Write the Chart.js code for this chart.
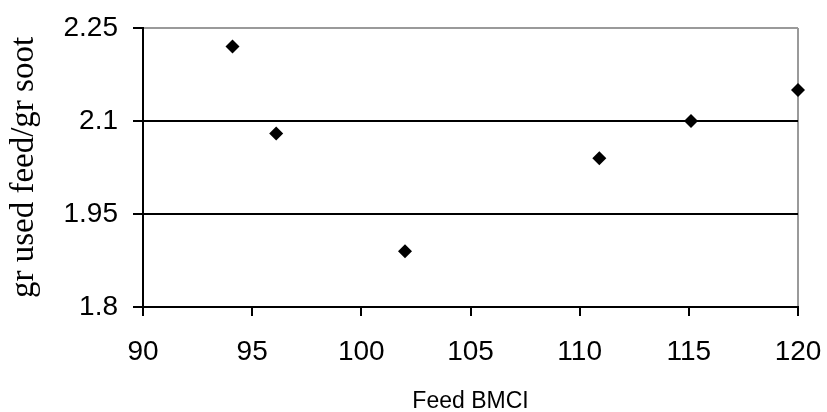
<!DOCTYPE html>
<html>
<head>
<meta charset="utf-8">
<script src="https://cdn.jsdelivr.net/npm/chart.js@4"></script>
<style>
  body { margin: 0; background: #fff; }
  #wrap { width: 827px; height: 412px; }
</style>
</head>
<body>
<div id="wrap"><canvas id="chart" width="827" height="412"></canvas></div>
<script>
// values
const feedBmci = [94.1, 96.1, 102.0, 110.9, 115.1, 120.0];
const usedPerSoot = [2.22, 2.08, 1.89, 2.04, 2.10, 2.15];
const yTicks = [1.8, 1.95, 2.1, 2.25];
const xTicks = [90, 95, 100, 105, 110, 115, 120];

const points = feedBmci.map((x, i) => ({ x: x, y: usedPerSoot[i] }));

const ctx = document.getElementById('chart').getContext('2d');
new Chart(ctx, {
  type: 'scatter',
  data: {
    datasets: [{
      data: points,
      pointStyle: 'rectRot',
      pointRadius: 7,
      pointHoverRadius: 7,
      backgroundColor: '#000',
      borderColor: '#000',
      borderWidth: 0,
      clip: false
    }]
  },
  options: {
    responsive: false,
    animation: false,
    events: [],
    layout: { padding: { top: 28, right: 29, left: 0, bottom: 0 } },
    plugins: { legend: { display: false }, tooltip: { enabled: false } },
    scales: {
      x: {
        type: 'linear',
        min: xTicks[0],
        max: xTicks[xTicks.length - 1],
        afterBuildTicks: s => { s.ticks = xTicks.map(v => ({ value: v })); },
        afterFit: s => { s.height = 105; s.paddingLeft = 0; s.paddingRight = 0; },
        grid: {
          drawOnChartArea: true,
          color: c => (c.tick && c.tick.value === 120) ? '#9a9a9a' : 'rgba(0,0,0,0)',
          lineWidth: 2,
          tickColor: '#000',
          tickLength: 9
        },
        border: { color: '#000', width: 2 },
        ticks: {
          color: '#000',
          padding: 19,
          maxRotation: 0,
          font: { family: 'Liberation Sans, Arial, sans-serif', size: 28 }
        },
        title: {
          display: true,
          text: 'Feed BMCI',
          color: '#000',
          padding: { top: 0, bottom: -3 },
          font: { family: 'Liberation Sans, Arial, sans-serif', size: 23 }
        }
      },
      y: {
        type: 'linear',
        min: yTicks[0],
        max: yTicks[yTicks.length - 1],
        afterBuildTicks: s => { s.ticks = yTicks.map(v => ({ value: v })); },
        afterFit: s => { s.width = 143; s.paddingTop = 0; s.paddingBottom = 0; },
        grid: {
          color: c => (c.tick && Math.abs(c.tick.value - 2.25) < 1e-6) ? '#9a9a9a' : '#000',
          lineWidth: 2,
          tickColor: '#000',
          tickLength: 10
        },
        border: { color: '#000', width: 2 },
        ticks: {
          color: '#000',
          padding: 15,
          callback: v => String(+v.toFixed(2)),
          font: { family: 'Liberation Sans, Arial, sans-serif', size: 28 }
        },
        title: {
          display: true,
          text: 'gr used feed/gr soot',
          color: '#000',
          padding: { top: 5, bottom: 0 },
          font: { family: 'Liberation Serif, Times New Roman, serif', size: 33 }
        }
      }
    }
  }
});
</script>
</body>
</html>
